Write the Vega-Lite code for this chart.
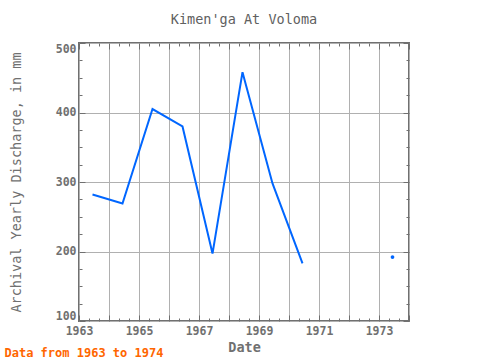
{
  "$schema": "https://vega.github.io/schema/vega-lite/v6.json",
  "width": 330,
  "height": 278,
  "autosize": {"type": "none"},
  "padding": {"left": 79, "top": 43, "right": 71, "bottom": 39},
  "background": "white",
  "title": {"text": "Kimen'ga At Voloma", "font": "DejaVu Sans Mono", "fontSize": 13.5, "fontWeight": "normal", "color": "#606060", "offset": 16, "anchor": "middle"},
  "config": {
    "view": {"stroke": "#707070", "strokeWidth": 2},
    "axis": {"labelFont": "DejaVu Sans Mono", "labelFontSize": 11.5, "labelFontWeight": "bold", "labelColor": "#707070", "titleFont": "DejaVu Sans Mono", "titleFontSize": 13.5, "titleFontWeight": "bold", "titleColor": "#707070", "domain": false, "tickColor": "#707070", "tickWidth": 1, "gridColor": "#b0b0b0", "gridWidth": 1}
  },
  "data": {"values": [
    {"year": 1963.45, "discharge": 282, "seg": "a"},
    {"year": 1964.45, "discharge": 269, "seg": "a"},
    {"year": 1965.45, "discharge": 405, "seg": "a"},
    {"year": 1966.45, "discharge": 380, "seg": "a"},
    {"year": 1967.45, "discharge": 197, "seg": "a"},
    {"year": 1968.45, "discharge": 458, "seg": "a"},
    {"year": 1969.45, "discharge": 298, "seg": "a"},
    {"year": 1970.45, "discharge": 183, "seg": "a"},
    {"year": 1973.45, "discharge": 192, "seg": "b"}
  ]},
  "layer": [
    {
      "mark": {"type": "line", "color": "#0066ff", "strokeWidth": 2},
      "encoding": {
        "x": {"field": "year", "type": "quantitative", "scale": {"domain": [1963, 1974], "nice": false, "zero": false},
          "axis": {"orient": "bottom", "title": "Date", "values": [1963,1964,1965,1966,1967,1968,1969,1970,1971,1972,1973,1974], "format": "d", "labelExpr": "datum.value % 2 == 1 ? datum.label : ''", "grid": true, "tickSize": -6, "labelPadding": 10, "titlePadding": 4, "labelFlush": false}},
        "y": {"field": "discharge", "type": "quantitative", "scale": {"domain": [100, 500], "nice": false, "zero": false},
          "title": "Archival Yearly Discharge, in mm",
          "axis": {"orient": "left", "values": [100,200,300,400,500], "grid": true, "tickSize": -6, "labelPadding": 9, "titlePadding": 32, "titleFontWeight": "normal", "labelFlush": true}},
        "detail": {"field": "seg"}
      }
    },
    {
      "transform": [{"filter": "datum.seg == 'b'"}],
      "mark": {"type": "point", "filled": true, "color": "#0066ff", "size": 14, "opacity": 1},
      "encoding": {
        "x": {"field": "year", "type": "quantitative",
          "axis": {"orient": "bottom", "title": "Data from 1963 to 1974", "titleColor": "#ff6600", "titleFontSize": 12, "titleAnchor": "start", "titleAlign": "left", "titleX": -75, "titleY": 35, "titleBaseline": "alphabetic", "labels": false, "grid": false, "tickSize": -3,
            "values": [1963.333,1963.667,1964.333,1964.667,1965.333,1965.667,1966.333,1966.667,1967.333,1967.667,1968.333,1968.667,1969.333,1969.667,1970.333,1970.667,1971.333,1971.667,1972.333,1972.667,1973.333,1973.667]}},
        "y": {"field": "discharge", "type": "quantitative",
          "axis": {"orient": "left", "title": null, "labels": false, "grid": false, "tickSize": -3,
            "values": [125,150,175,225,250,275,325,350,375,425,450,475]}}
      }
    },
    {
      "mark": {"type": "point", "opacity": 0},
      "encoding": {
        "x": {"field": "year", "type": "quantitative",
          "axis": {"orient": "top", "title": null, "labels": false, "grid": false, "tickSize": -6, "values": [1963,1964,1965,1966,1967,1968,1969,1970,1971,1972,1973,1974]}},
        "y": {"field": "discharge", "type": "quantitative",
          "axis": {"orient": "right", "title": null, "labels": false, "grid": false, "tickSize": -6, "values": [100,200,300,400,500]}}
      }
    },
    {
      "mark": {"type": "point", "opacity": 0},
      "encoding": {
        "x": {"field": "year", "type": "quantitative",
          "axis": {"orient": "top", "title": null, "labels": false, "grid": false, "tickSize": -3,
            "values": [1963.333,1963.667,1964.333,1964.667,1965.333,1965.667,1966.333,1966.667,1967.333,1967.667,1968.333,1968.667,1969.333,1969.667,1970.333,1970.667,1971.333,1971.667,1972.333,1972.667,1973.333,1973.667]}},
        "y": {"field": "discharge", "type": "quantitative",
          "axis": {"orient": "right", "title": null, "labels": false, "grid": false, "tickSize": -3,
            "values": [125,150,175,225,250,275,325,350,375,425,450,475]}}
      }
    }
  ],
  "resolve": {"axis": {"x": "independent", "y": "independent"}}
}
